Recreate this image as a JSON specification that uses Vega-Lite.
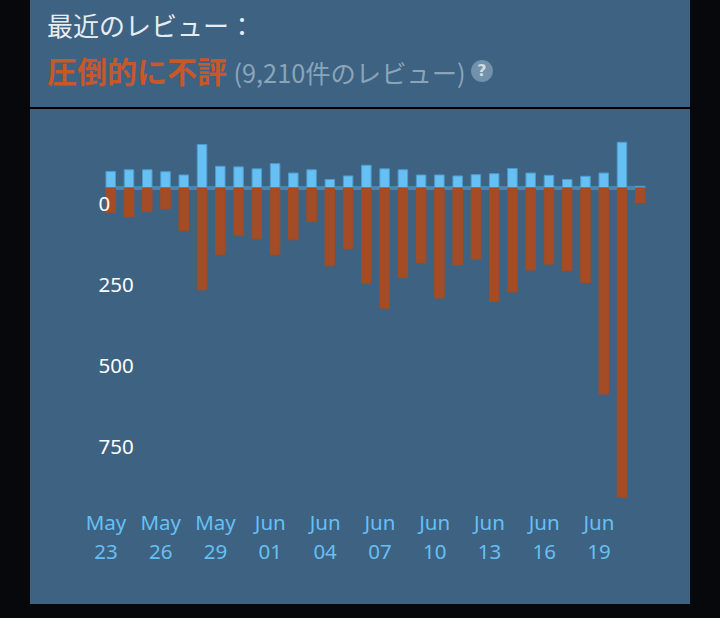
{
  "$schema": "https://vega.github.io/schema/vega-lite/v6.json",
  "width": 660,
  "height": 604,
  "autosize": {"type": "none"},
  "padding": {"left": 30, "top": 0, "right": 30, "bottom": 14},
  "background": "#06080b",
  "view": {"fill": "#3e6282", "stroke": null},
  "config": {
    "font": "'Noto Sans', 'Noto Sans CJK JP'",
    "legend": {"symbolBaseFillColor": "#7391aa", "symbolBaseStrokeColor": "#7391aa"}
  },
  "title": {
    "text": "最近のレビュー：",
    "subtitle": "圧倒的に不評",
    "anchor": "start",
    "frame": "group",
    "orient": "top",
    "offset": -88.6,
    "dx": 17,
    "color": "#e6edf2",
    "fontSize": 26,
    "fontWeight": "normal",
    "font": "'Noto Sans CJK JP'",
    "subtitleColor": "#c6582a",
    "subtitleFontSize": 30,
    "subtitleFontWeight": "bold",
    "subtitleFont": "'Noto Sans CJK JP'",
    "subtitlePadding": 18
  },
  "data": {
    "values": [
      {"date": "2024-05-23", "type": "positive", "count": 51},
      {"date": "2024-05-24", "type": "positive", "count": 56},
      {"date": "2024-05-25", "type": "positive", "count": 56},
      {"date": "2024-05-26", "type": "positive", "count": 50},
      {"date": "2024-05-27", "type": "positive", "count": 40},
      {"date": "2024-05-28", "type": "positive", "count": 134},
      {"date": "2024-05-29", "type": "positive", "count": 67},
      {"date": "2024-05-30", "type": "positive", "count": 65},
      {"date": "2024-05-31", "type": "positive", "count": 59},
      {"date": "2024-06-01", "type": "positive", "count": 75},
      {"date": "2024-06-02", "type": "positive", "count": 46},
      {"date": "2024-06-03", "type": "positive", "count": 56},
      {"date": "2024-06-04", "type": "positive", "count": 26},
      {"date": "2024-06-05", "type": "positive", "count": 37},
      {"date": "2024-06-06", "type": "positive", "count": 70},
      {"date": "2024-06-07", "type": "positive", "count": 59},
      {"date": "2024-06-08", "type": "positive", "count": 56},
      {"date": "2024-06-09", "type": "positive", "count": 40},
      {"date": "2024-06-10", "type": "positive", "count": 40},
      {"date": "2024-06-11", "type": "positive", "count": 37},
      {"date": "2024-06-12", "type": "positive", "count": 41},
      {"date": "2024-06-13", "type": "positive", "count": 44},
      {"date": "2024-06-14", "type": "positive", "count": 60},
      {"date": "2024-06-15", "type": "positive", "count": 46},
      {"date": "2024-06-16", "type": "positive", "count": 39},
      {"date": "2024-06-17", "type": "positive", "count": 26},
      {"date": "2024-06-18", "type": "positive", "count": 36},
      {"date": "2024-06-19", "type": "positive", "count": 46},
      {"date": "2024-06-20", "type": "positive", "count": 141},
      {"date": "2024-06-21", "type": "positive", "count": 5},
      {"date": "2024-05-23", "type": "negative", "count": -75},
      {"date": "2024-05-24", "type": "negative", "count": -89},
      {"date": "2024-05-25", "type": "negative", "count": -73},
      {"date": "2024-05-26", "type": "negative", "count": -64},
      {"date": "2024-05-27", "type": "negative", "count": -131},
      {"date": "2024-05-28", "type": "negative", "count": -314},
      {"date": "2024-05-29", "type": "negative", "count": -205},
      {"date": "2024-05-30", "type": "negative", "count": -146},
      {"date": "2024-05-31", "type": "negative", "count": -157},
      {"date": "2024-06-01", "type": "negative", "count": -206},
      {"date": "2024-06-02", "type": "negative", "count": -160},
      {"date": "2024-06-03", "type": "negative", "count": -103},
      {"date": "2024-06-04", "type": "negative", "count": -240},
      {"date": "2024-06-05", "type": "negative", "count": -188},
      {"date": "2024-06-06", "type": "negative", "count": -294},
      {"date": "2024-06-07", "type": "negative", "count": -371},
      {"date": "2024-06-08", "type": "negative", "count": -277},
      {"date": "2024-06-09", "type": "negative", "count": -231},
      {"date": "2024-06-10", "type": "negative", "count": -340},
      {"date": "2024-06-11", "type": "negative", "count": -237},
      {"date": "2024-06-12", "type": "negative", "count": -220},
      {"date": "2024-06-13", "type": "negative", "count": -350},
      {"date": "2024-06-14", "type": "negative", "count": -321},
      {"date": "2024-06-15", "type": "negative", "count": -253},
      {"date": "2024-06-16", "type": "negative", "count": -235},
      {"date": "2024-06-17", "type": "negative", "count": -256},
      {"date": "2024-06-18", "type": "negative", "count": -292},
      {"date": "2024-06-19", "type": "negative", "count": -636},
      {"date": "2024-06-20", "type": "negative", "count": -955},
      {"date": "2024-06-21", "type": "negative", "count": -45}
    ]
  },
  "layer": [
    {
      "mark": {"type": "rule", "color": "#4a87b0", "strokeWidth": 3.3},
      "encoding": {
        "x": {"datum": "2024-05-23", "type": "ordinal", "bandPosition": 0},
        "x2": {"datum": "2024-06-21", "bandPosition": 1},
        "y": {"datum": 0, "type": "quantitative"}
      }
    },
    {
      "mark": {"type": "bar", "strokeWidth": 1},
      "encoding": {
        "x": {
          "field": "date",
          "type": "ordinal",
          "scale": {"type": "band", "range": [76, 615], "paddingInner": 0.48, "paddingOuter": 0},
          "axis": {
            "values": ["2024-05-23", "2024-05-26", "2024-05-29", "2024-06-01", "2024-06-04", "2024-06-07", "2024-06-10", "2024-06-13", "2024-06-16", "2024-06-19"],
            "labelExpr": "[utcFormat(toDate(datum.value), '%b'), utcFormat(toDate(datum.value), '%d')]",
            "labelOffset": -4.75,
            "labelAngle": 0,
            "labelAlign": "center",
            "labelBaseline": "top",
            "labelLineHeight": 28.5,
            "labelColor": "#66c0f4",
            "labelFontSize": 20.5,
            "labelFont": "'Noto Sans'",
            "labelOverlap": false,
            "labelPadding": 0,
            "domain": false,
            "ticks": false,
            "tickSize": 0,
            "grid": false,
            "offset": -90.4,
            "zindex": 1,
            "title": null
          }
        },
        "y": {
          "field": "count",
          "type": "quantitative",
          "scale": {"domain": [-1284, 580], "nice": false, "zero": false},
          "axis": {
            "values": [0, -250, -500, -750],
            "labelExpr": "format(abs(datum.value), 'd')",
            "labelAlign": "left",
            "labelBaseline": "middle",
            "labelOffset": 16.3,
            "labelPadding": 0,
            "labelColor": "#ffffff",
            "labelFontSize": 20.5,
            "labelFont": "'Noto Sans'",
            "labelOverlap": false,
            "domain": false,
            "ticks": false,
            "tickSize": 0,
            "grid": false,
            "offset": -68,
            "zindex": 1,
            "title": "(9,210件のレビュー)",
            "titleAngle": 0,
            "titleAlign": "left",
            "titleBaseline": "middle",
            "titleX": 135,
            "titleY": 74,
            "titleColor": "#8aa5ba",
            "titleFontSize": 25.3,
            "titleFontWeight": "normal",
            "titleFont": "'Noto Sans CJK JP'"
          }
        },
        "color": {
          "field": "type",
          "type": "nominal",
          "scale": {"domain": ["positive", "negative"], "range": ["#66c0f4", "#a34c25"]},
          "legend": null
        },
        "stroke": {
          "field": "type",
          "type": "nominal",
          "scale": {"domain": ["positive", "negative"], "range": ["#4f9ccc", "#a34c25"]},
          "legend": null
        },
        "opacity": {
          "datum": "?",
          "type": "ordinal",
          "scale": {"range": [1]},
          "legend": {
            "orient": "none",
            "legendX": 441,
            "legendY": 60,
            "title": null,
            "padding": 0,
            "symbolType": "circle",
            "symbolSize": 480,
            "symbolFillColor": "#7391aa",
            "symbolStrokeColor": "#7391aa",
            "symbolStrokeWidth": 0,
            "symbolOpacity": 1,
            "labelOffset": -11,
            "labelAlign": "center",
            "labelColor": "#d0dbe3",
            "labelFontSize": 16,
            "labelFontWeight": "bold",
            "labelFont": "'DejaVu Sans'"
          }
        }
      }
    },
    {
      "mark": {"type": "rule", "color": "#000000", "strokeWidth": 1.5},
      "encoding": {"y": {"datum": 246.9, "type": "quantitative"}}
    }
  ]
}
